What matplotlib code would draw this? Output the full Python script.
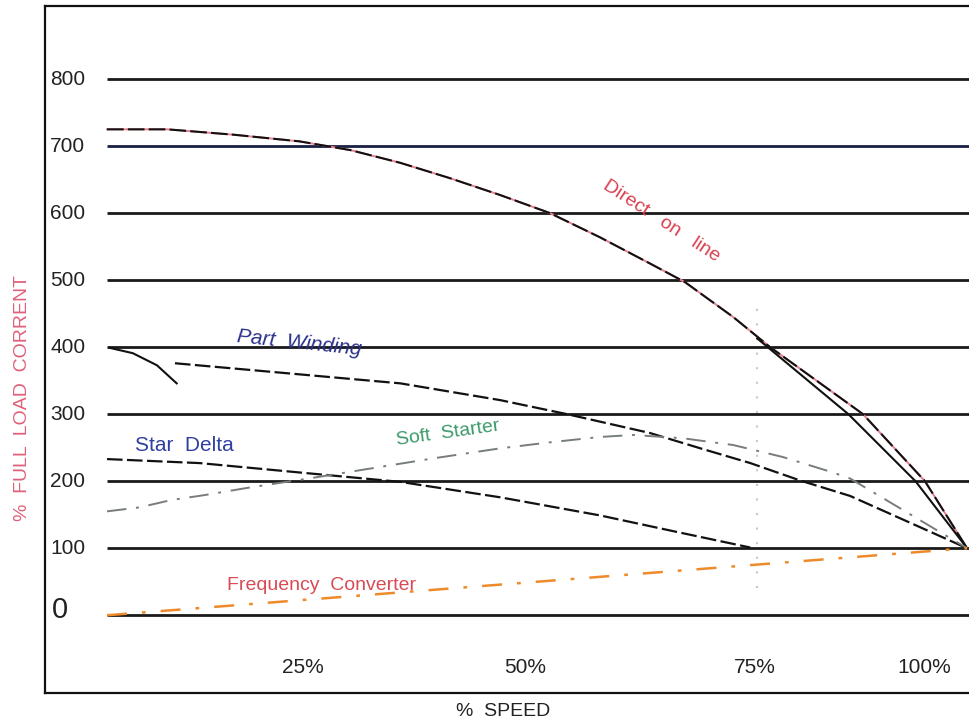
import matplotlib
matplotlib.use("Agg")
import matplotlib.pyplot as plt

plt.rcParams['font.family'] = ['Liberation Sans', 'DejaVu Sans']

# y gridlines / tick labels
grid_levels = [0, 100, 200, 300, 400, 500, 600, 700, 800]
x_tick_labels = ['25%', '50%', '75%', '100%']
x_tick_pos = [22.8, 48.6, 75.3, 95.0]

# Direct on line
dol_speed = [0, 7.0, 14.7, 22.4, 28.3, 34.1, 39.9, 45.7, 51.5, 57.3, 63.1, 67.2, 72.8, 77.1,
             87.9, 95.1, 100]
dol_current = [725, 725, 717, 707, 694, 675, 652, 627, 600, 564, 525, 497, 445, 400,
               300, 200, 100]

# second branch near DOL (from 75 % speed)
branch_speed = [75.6, 86.2, 94.0, 100]
branch_current = [413, 300, 200, 100]

# Part winding
pw_start_speed = [0.3, 3.0, 5.8, 8.1]
pw_start_current = [399, 391, 373, 346]
pw_speed = [7.9, 34.1, 45.7, 53.5, 63.1, 69.0, 74.8, 80.6, 86.4, 100]
pw_current = [376, 346, 321, 300, 272, 249, 227, 201, 178, 100]

# Star delta
sd_speed = [0, 10.8, 22.4, 34.1, 45.7, 57.3, 66.0, 74.8]
sd_current = [233, 227, 213, 199, 176, 149, 125, 101]

# Soft starter
ss_speed = [0, 3.8, 7.5, 11.2, 16.3, 24.4, 37.9, 45.7, 51.5, 57.3, 61.2, 67.0, 72.8, 78.6, 84.4, 86.4, 100]
ss_current = [155, 161, 172, 179, 190, 206, 234, 249, 258, 266, 269, 264, 254, 236, 213, 204, 100]

# Frequency converter
fc_speed = [0, 100]
fc_current = [0, 100]

fig = plt.figure(figsize=(9.69, 7.28), dpi=100)
ax = fig.add_axes([45 / 969, 35 / 728, 935 / 969, 687 / 728])
x_min, x_max = -7.21, 101.5
y_min, y_max = -116, 909
ax.set_xlim(x_min, x_max)
ax.set_ylim(y_min, y_max)
ax.set_xticks([])
ax.set_yticks([])
for side in ['left', 'top', 'bottom']:
    ax.spines[side].set_linewidth(1.6)
    ax.spines[side].set_color('#111111')
ax.spines['right'].set_visible(False)

# horizontal gridlines
for lvl in grid_levels:
    col = '#1a1f44' if lvl == 700 else '#1a1a1a'
    ax.hlines(lvl, 0, x_max, color=col, linewidth=2.0, zorder=1)
    if lvl == 0:
        ax.text(-6.4, lvl + 8, '0', fontsize=21, ha='left', va='center', color='#222222')
    else:
        ax.text(-6.6, lvl, str(lvl), fontsize=15, ha='left', va='center', color='#222222')

# faint dotted vertical at 75 %
ax.vlines(75.6, 40, 470, color='#c8c8c8', linestyle=(0, (1, 6)), linewidth=1.5, zorder=1)

# curves
ax.plot(dol_speed, dol_current, color='#e88090', linewidth=1.4, zorder=2)
ax.plot(dol_speed, dol_current, color='#111111', linewidth=1.5, dashes=(8, 2), zorder=3)
ax.plot(branch_speed, branch_current, color='#111111', linewidth=1.5, zorder=3)
ax.plot(pw_start_speed, pw_start_current, color='#111111', linewidth=1.5, zorder=3)
ax.plot(pw_speed, pw_current, color='#111111', linewidth=1.6, dashes=(7, 2), zorder=3)
ax.plot(sd_speed, sd_current, color='#111111', linewidth=1.6, dashes=(7, 2), zorder=3)
ax.plot(ss_speed, ss_current, color='#777d78', linewidth=1.4, dashes=(10, 5, 1.5, 5), zorder=3)
ax.plot(fc_speed, fc_current, color='#ee8a2a', linewidth=1.8, dashes=(8, 6, 1.5, 6), zorder=3)

# curve labels
ax.text(64.5, 588, 'Direct   on   line', color='#d8404f', fontsize=14, rotation=-33,
        ha='center', va='center')
ax.text(22.4, 406, 'Part  Winding', color='#2a2f8a', fontsize=15, rotation=-6,
        ha='center', va='center', style='italic')
ax.text(9.0, 254, 'Star  Delta', color='#3040a0', fontsize=15, ha='center', va='center')
ax.text(39.7, 271, 'Soft  Starter', color='#3c9a6a', fontsize=14, rotation=8,
        ha='center', va='center')
ax.text(24.9, 45, 'Frequency  Converter', color='#d84a55', fontsize=14,
        ha='center', va='center')

# x tick labels inside the frame
for pos, lab in zip(x_tick_pos, x_tick_labels):
    ax.text(pos, -78, lab, fontsize=15, ha='center', va='center', color='#222222')

fig.text(503 / 969, 1 - 712 / 728, '%  SPEED', fontsize=14, ha='center', va='center',
         color='#222222')
fig.text(23 / 969, 1 - 398 / 728, '%  FULL  LOAD  CORRENT', fontsize=14, rotation=90,
         ha='center', va='center', color='#e0607a')

fig.savefig('out.png', dpi=100)
